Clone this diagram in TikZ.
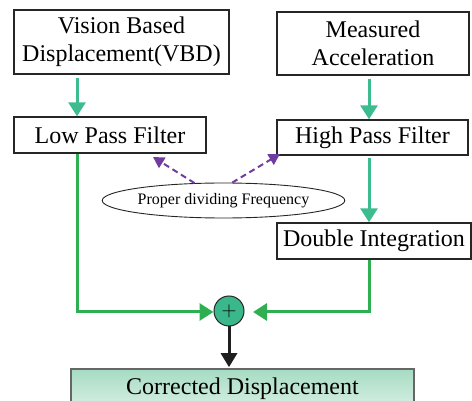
\documentclass[tikz,border=0pt]{standalone}
\usepackage{fontspec}
\setmainfont{Liberation Serif}
\usetikzlibrary{arrows.meta,shapes.geometric}
\definecolor{flowteal}{RGB}{61,189,143}
\definecolor{flowgreen}{RGB}{46,176,82}
\definecolor{hintpurple}{RGB}{112,60,160}
\definecolor{sumfill}{RGB}{58,184,140}
\definecolor{outtop}{RGB}{166,219,195}
\definecolor{outbot}{RGB}{216,240,228}
\tikzset{
  block/.style={draw=black!85, line width=1.4pt, fill=white, inner sep=0pt,
    align=center, font=\fontsize{24}{28}\selectfont},
  hint/.style={draw=black!85, line width=0.9pt, ellipse, inner sep=0pt,
    font=\fontsize{16}{18}\selectfont},
  tealarrow/.style={draw=flowteal, line width=3pt,
    -{Triangle[length=14pt,width=17pt]}},
  greenarrow/.style={draw=flowgreen, line width=3pt,
    -{Triangle[length=14pt,width=17pt]}},
  blackarrow/.style={draw=black!88, line width=3pt,
    -{Triangle[length=14pt,width=16pt]}},
  dasharrow/.style={draw=hintpurple, line width=2pt, dash pattern=on 6pt off 4pt,
    -{Triangle[length=11pt,width=12pt]}},
}
\begin{document}
\begin{tikzpicture}[x=1pt,y=-1pt]
\useasboundingbox (0,0) rectangle (472,401);

% input blocks
\node[block, minimum width=215pt, minimum height=64pt] (vbd) at (121.5,42) {Vision Based\\Displacement(VBD)};
\node[block, minimum width=192pt, minimum height=63pt] (acc) at (373,43.5) {Measured\\Acceleration};

% filters
\node[block, minimum width=192pt, minimum height=36pt] (lpf) at (110,135) {Low Pass Filter};
\node[block, minimum width=191pt, minimum height=35pt] (hpf) at (372.5,137.5) {High Pass Filter};

% integration
\node[block, minimum width=194pt, minimum height=36pt] (dint) at (374,241) {Double Integration};

% cut-off frequency
\node[hint, minimum width=221pt, minimum height=35pt] (freq) at (223.5,200.5) {Proper dividing Frequency};

% summing junction
\node[circle, draw=black!85, line width=1pt, fill=sumfill, minimum size=30pt, inner sep=0pt,
  font=\fontsize{20}{20}\selectfont] (sum) at (229,311) {$+$};

% output block
\node[draw=black!60, line width=1.6pt, top color=outtop, bottom color=outbot, inner sep=0pt,
  minimum width=343pt, minimum height=40pt, font=\fontsize{24}{28}\selectfont] (out) at (242.5,389) {Corrected Displacement};

% column positions
\coordinate (xl) at (77,0);
\coordinate (xr) at (369,0);
\coordinate (yj) at (0,312);
\coordinate (tipl) at (153,157);
\coordinate (tipr) at (280,154);
\coordinate (tipj) at (253,312);

% signal paths
\draw[tealarrow] ([yshift=-3pt]vbd.south -| xl) -- (lpf.north -| xl);
\draw[tealarrow] ([yshift=-3pt]acc.south -| xr) -- (hpf.north -| xr);
\draw[tealarrow] ([yshift=-2pt]hpf.south -| xr) -- (dint.north -| xr);

\draw[dasharrow] (freq.149) -- (tipl);
\draw[dasharrow] (freq.64) -- (tipr);

\draw[greenarrow] (lpf.south -| xl) -- (xl |- yj) -- (sum.west |- yj);
\draw[greenarrow] (dint.south -| xr) -- (xr |- yj) -- (tipj);

\draw[blackarrow] (sum.south) -- ([yshift=1pt]out.north -| sum);
\end{tikzpicture}
\end{document}
